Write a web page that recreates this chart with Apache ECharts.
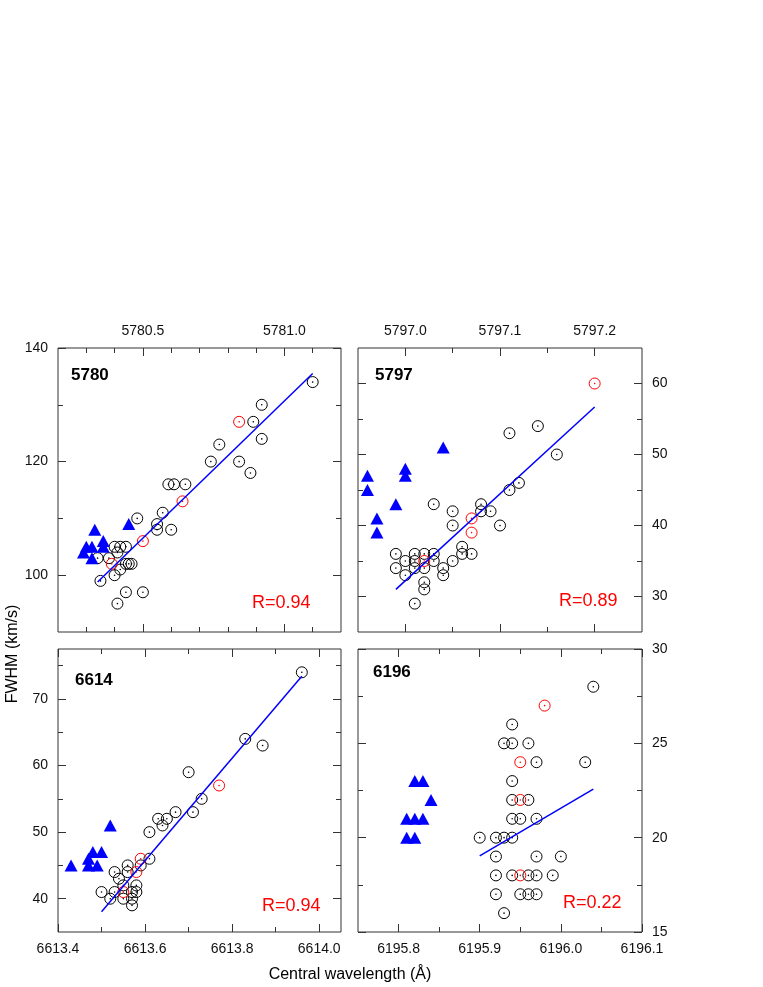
<!DOCTYPE html>
<html>
<head>
<meta charset="utf-8">
<script src="https://cdn.jsdelivr.net/npm/echarts@6/dist/echarts.min.js"></script>
<style>
html,body{margin:0;padding:0;background:#fff;}
#chart{width:763px;height:987px;}
</style>
</head>
<body>
<div id="chart"></div>
<script>
// ---------- DATA ----------
// Panel 5780
const black5780 = [[5781.10,134],[5780.92,130],[5780.89,127],[5780.92,124],[5780.77,123],[5780.74,120],[5780.84,120],[5780.88,118],[5780.59,116],[5780.61,116],[5780.65,116],[5780.57,111],[5780.55,109],[5780.55,108],[5780.60,108],[5780.48,110],[5780.40,105],[5780.42,105],[5780.44,105],[5780.41,104],[5780.38,103],[5780.34,103],[5780.44,102],[5780.45,102],[5780.46,102],[5780.42,101],[5780.40,100],[5780.35,99],[5780.44,97],[5780.50,97],[5780.41,95]];
const red5780 = [[5780.84,127],[5780.64,113],[5780.50,106],[5780.39,102]];
const tri5780 = [[5780.33,108],[5780.45,109],[5780.29,104],[5780.32,105],[5780.36,106],[5780.36,105],[5780.32,103],[5780.30,105]];
const fit5780 = [[5780.34,98.8],[5781.10,135.5]];
const xTicks5780 = [5780.5,5781.0];
const xMinor5780 = [5780.3,5780.4,5780.6,5780.7,5780.8,5780.9,5781.1];
const yTicks5780 = [100,120,140];
const yMinor5780 = [110,130];

// Panel 5797
const black5797 = [[5797.14,54],[5797.11,53],[5797.16,50],[5797.12,46],[5797.11,45],[5797.08,43],[5797.08,42],[5797.09,42],[5797.03,43],[5797.05,42],[5797.05,40],[5797.10,40],[5797.06,37],[5797.06,36],[5797.07,36],[5797.05,35],[5797.04,34],[5797.04,33],[5796.99,36],[5797.01,36],[5797.02,36],[5797.03,36],[5797.00,35],[5797.01,35],[5797.03,35],[5796.99,34],[5797.01,34],[5797.02,34],[5797.00,33],[5797.02,32],[5797.02,31],[5797.01,29]];
const red5797 = [[5797.20,60],[5797.07,41],[5797.07,39],[5797.02,35]];
const tri5797 = [[5796.96,47],[5796.96,45],[5796.97,41],[5796.97,39],[5796.99,43],[5797.00,48],[5797.00,47],[5797.04,51]];
const fit5797 = [[5796.99,31.0],[5797.20,56.7]];
const xTicks5797 = [5797.0,5797.1,5797.2];
const xMinor5797 = [5797.05,5797.15];
const yTicks5797 = [30,40,50,60];
const yMinor5797 = [35,45,55];

// Panel 6614
const black6614 = [[6613.96,74],[6613.83,64],[6613.87,63],[6613.70,59],[6613.73,55],[6613.71,53],[6613.67,53],[6613.63,52],[6613.65,52],[6613.64,51],[6613.61,50],[6613.61,46],[6613.59,45],[6613.56,45],[6613.56,44],[6613.53,44],[6613.54,43],[6613.55,42],[6613.58,42],[6613.50,41],[6613.53,41],[6613.57,41],[6613.58,41],[6613.52,40],[6613.55,40],[6613.57,40],[6613.57,39]];
const red6614 = [[6613.77,57],[6613.59,46],[6613.58,44],[6613.55,41]];
const tri6614 = [[6613.43,45],[6613.52,51],[6613.48,47],[6613.50,47],[6613.47,46],[6613.47,45],[6613.49,45]];
const fit6614 = [[6613.50,38.05],[6613.96,73.4]];
const xTicks6614 = [6613.4,6613.6,6613.8,6614.0];
const xMinor6614 = [6613.5,6613.7,6613.9];
const yTicks6614 = [40,50,60,70];
const yMinor6614 = [45,55,65,75];

// Panel 6196
const black6196 = [[6196.04,28],[6195.94,26],[6195.93,25],[6195.94,25],[6195.96,25],[6195.97,24],[6196.03,24],[6195.94,23],[6195.94,22],[6195.96,22],[6195.94,21],[6195.95,21],[6195.97,21],[6195.90,20],[6195.92,20],[6195.93,20],[6195.94,20],[6195.92,19],[6195.97,19],[6196.00,19],[6195.92,18],[6195.94,18],[6195.96,18],[6195.97,18],[6195.99,18],[6195.92,17],[6195.95,17],[6195.96,17],[6195.97,17],[6195.93,16]];
const red6196 = [[6195.98,27],[6195.95,24],[6195.95,22],[6195.95,18]];
const tri6196 = [[6195.82,23],[6195.83,23],[6195.84,22],[6195.81,21],[6195.82,21],[6195.83,21],[6195.81,20],[6195.82,20]];
const fit6196 = [[6195.90,19.03],[6196.04,22.57]];
const xTicks6196 = [6195.8,6195.9,6196.0,6196.1];
const xMinor6196 = [6195.85,6195.95,6196.05];
const yTicks6196 = [15,20,25,30];
const yMinor6196 = [17.5,22.5,27.5];

const panelNames = ['5780','5797','6614','6196'];
const rValues = ['R=0.94','R=0.89','R=0.94','R=0.22'];

// ---------- LAYOUT ----------
const FONT = 'Liberation Sans, Arial, Helvetica, sans-serif';
const panels = [
  {grid:{left:58,top:348,width:283,height:284},
   x:{min:5780.2,max:5781.2,major:xTicks5780,minor:xMinor5780,label:'top',dec:1},
   y:{min:90,max:140,major:yTicks5780,minor:yMinor5780,label:'left',dec:0},
   black:black5780,red:red5780,tri:tri5780,fit:fit5780},
  {grid:{left:358,top:348,width:284,height:284},
   x:{min:5796.95,max:5797.25,major:xTicks5797,minor:xMinor5797,label:'top',dec:1},
   y:{min:25,max:65,major:yTicks5797,minor:yMinor5797,label:'right',dec:0},
   black:black5797,red:red5797,tri:tri5797,fit:fit5797},
  {grid:{left:58,top:649,width:283,height:283},
   x:{min:6613.4,max:6614.05,major:xTicks6614,minor:xMinor6614,label:'bottom',dec:1},
   y:{min:35,max:77.5,major:yTicks6614,minor:yMinor6614,label:'left',dec:0},
   black:black6614,red:red6614,tri:tri6614,fit:fit6614},
  {grid:{left:358,top:649,width:284,height:283},
   x:{min:6195.75,max:6196.1,major:xTicks6196,minor:xMinor6196,label:'bottom',dec:1},
   y:{min:15,max:30,major:yTicks6196,minor:yMinor6196,label:'right',dec:0},
   black:black6196,red:red6196,tri:tri6196,fit:fit6196}
];

const grids = [], xAxes = [], yAxes = [], series = [], graphics = [];
const tickColor = '#333';

function makeAxis(gi, spec, pos, major) {
  return {
    type:'value', gridIndex:gi, position:pos, min:spec.min, max:spec.max,
    axisLine:{show:false, onZero:false},
    splitLine:{show:false},
    axisTick:{show:true, inside:true, length: major ? 8 : 5,
      customValues: major ? spec.major : spec.minor,
      lineStyle:{color:tickColor, width:1}},
    axisLabel:{show: major && pos === spec.label, customValues: spec.major,
      formatter: v => Number(v).toFixed(spec.dec),
      margin: 10, fontSize:14, fontFamily:FONT, color:'#111',
      showMinLabel:true, showMaxLabel:true, hideOverlap:false}
  };
}

panels.forEach((p, i) => {
  grids.push(Object.assign({show:true, borderColor:'#333', borderWidth:1,
    backgroundColor:'transparent', containLabel:false, outerBoundsMode:'none'}, p.grid));
  const xBase = xAxes.length, yBase = yAxes.length;
  ['bottom','top'].forEach(pos => {
    xAxes.push(makeAxis(i, p.x, pos, true));
    xAxes.push(makeAxis(i, p.x, pos, false));
  });
  ['left','right'].forEach(pos => {
    yAxes.push(makeAxis(i, p.y, pos, true));
    yAxes.push(makeAxis(i, p.y, pos, false));
  });
  const ax = {xAxisIndex:xBase, yAxisIndex:yBase};
  series.push(Object.assign({type:'scatter', data:p.black, symbol:'circle', symbolSize:11,
    itemStyle:{color:'rgba(0,0,0,0)', borderColor:'#000', borderWidth:1, opacity:1}, z:2, silent:true}, ax));
  series.push(Object.assign({type:'scatter', data:p.black, symbol:'circle', symbolSize:1.6,
    itemStyle:{color:'#000', opacity:1}, z:2, silent:true}, ax));
  series.push(Object.assign({type:'scatter', data:p.red, symbol:'circle', symbolSize:11,
    itemStyle:{color:'rgba(0,0,0,0)', borderColor:'#ff0000', borderWidth:1, opacity:1}, z:3, silent:true}, ax));
  series.push(Object.assign({type:'scatter', data:p.red, symbol:'circle', symbolSize:1.6,
    itemStyle:{color:'#ff0000', opacity:1}, z:3, silent:true}, ax));
  series.push(Object.assign({type:'scatter', data:p.tri, symbol:'triangle', symbolSize:[13,12],
    itemStyle:{color:'#0000ff', opacity:1}, z:4, silent:true}, ax));
  series.push(Object.assign({type:'line', data:p.fit, symbol:'none', smooth:false,
    lineStyle:{color:'#0000ff', width:1.5}, z:5, silent:true}, ax));
});

// Panel labels & R values
const nameLabelPos = [[71,375],[375,375],[75,680],[373,672]];
const rLabelPos = [[252,603],[559,601],[262,906],[563,903]];
panelNames.forEach((n, i) => {
  graphics.push({type:'text', x:nameLabelPos[i][0], y:nameLabelPos[i][1],
    style:{text:n, fontSize:17, fontWeight:'bold', fontFamily:FONT, fill:'#000', verticalAlign:'middle', align:'left'}});
  graphics.push({type:'text', x:rLabelPos[i][0], y:rLabelPos[i][1],
    style:{text:rValues[i], fontSize:18, fontFamily:FONT, fill:'#ff0000', verticalAlign:'middle', align:'left'}});
});
graphics.push({type:'text', x:13, y:654, rotation:Math.PI/2,
  style:{text:'FWHM (km/s)', fontSize:16, fontFamily:FONT, fill:'#000', align:'center', verticalAlign:'middle'}});
graphics.push({type:'text', x:350, y:975,
  style:{text:'Central wavelength (Å)', fontSize:16, fontFamily:FONT, fill:'#000', align:'center', verticalAlign:'middle'}});

const chart = echarts.init(document.getElementById('chart'), null, {renderer:'canvas'});
chart.setOption({
  animation:false,
  backgroundColor:'#fff',
  grid:grids, xAxis:xAxes, yAxis:yAxes, series:series, graphic:graphics
});
</script>
</body>
</html>
